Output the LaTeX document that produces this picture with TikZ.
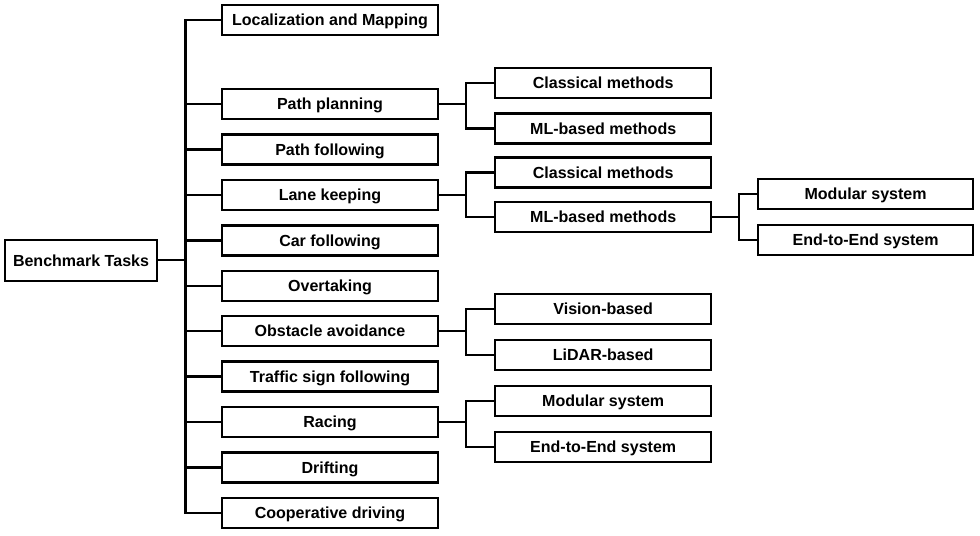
\documentclass[tikz,border=0pt]{standalone}
\usepackage{fontspec}
\setmainfont{Liberation Sans}
\usepackage{tikz}
\usetikzlibrary{arrows.meta, positioning}

\begin{document}
\begin{tikzpicture}[
    task/.style={draw=black, fill=white, line width=1.7pt, inner sep=0pt, outer sep=0pt,
      minimum width=5.4cm, minimum height=0.75cm, text height=8.2pt, text depth=0pt,
      font=\fontsize{11.4}{13.7}\selectfont\bfseries},
    link/.style={draw=black, line width=1.45pt}
  ]
    \fill[white] (0,0) rectangle (24.5,13.4);
    \useasboundingbox (0,0) rectangle (24.5,13.4);

    \node[task, minimum width=3.8cm, minimum height=1.025cm] (bench) at (2.025, 6.89) {Benchmark Tasks};

    \node[task] (loc) at (8.25, 12.9) {Localization and Mapping};
    \node[task] (plan) at (8.25, 10.8) {Path planning};
    \node[task] (pfol) at (8.25, 9.6625) {Path following};
    \node[task] (lane) at (8.25, 8.525) {Lane keeping};
    \node[task] (car) at (8.25, 7.3875) {Car following};
    \node[task] (over) at (8.25, 6.25) {Overtaking};
    \node[task] (obst) at (8.25, 5.125) {Obstacle avoidance};
    \node[task] (sign) at (8.25, 3.9875) {Traffic sign following};
    \node[task] (race) at (8.25, 2.85) {Racing};
    \node[task] (drift) at (8.25, 1.7125) {Drifting};
    \node[task] (coop) at (8.25, 0.575) {Cooperative driving};

    \node[task] (planclass) at (15.08, 11.325) {Classical methods};
    \node[task] (planml) at (15.08, 10.1875) {ML-based methods};
    \node[task] (laneclass) at (15.08, 9.0875) {Classical methods};
    \node[task] (laneml) at (15.08, 7.975) {ML-based methods};
    \node[task] (vision) at (15.08, 5.675) {Vision-based};
    \node[task] (lidar) at (15.08, 4.525) {LiDAR-based};
    \node[task] (racemod) at (15.08, 3.375) {Modular system};
    \node[task] (raceend) at (15.08, 2.225) {End-to-End system};

    \node[task, minimum width=5.375cm] (lanemod) at (21.64, 8.55) {Modular system};
    \node[task, minimum width=5.375cm] (laneend) at (21.64, 7.4) {End-to-End system};

    \foreach \t in {loc, plan, pfol, lane, car, over, obst, sign, race, drift, coop}
      \draw[link] (bench.east) -- ++(0.7125,0) |- (\t.west);

    \draw[link] (plan.east) -- ++(0.7,0) |- (planclass.west);
    \draw[link] (plan.east) -- ++(0.7,0) |- (planml.west);
    \draw[link] (lane.east) -- ++(0.7,0) |- (laneclass.west);
    \draw[link] (lane.east) -- ++(0.7,0) |- (laneml.west);
    \draw[link] (obst.east) -- ++(0.7,0) |- (vision.west);
    \draw[link] (obst.east) -- ++(0.7,0) |- (lidar.west);
    \draw[link] (race.east) -- ++(0.7,0) |- (racemod.west);
    \draw[link] (race.east) -- ++(0.7,0) |- (raceend.west);

    \draw[link] (laneml.east) -- ++(0.69,0) |- (lanemod.west);
    \draw[link] (laneml.east) -- ++(0.69,0) |- (laneend.west);
  \end{tikzpicture}
\end{document}
